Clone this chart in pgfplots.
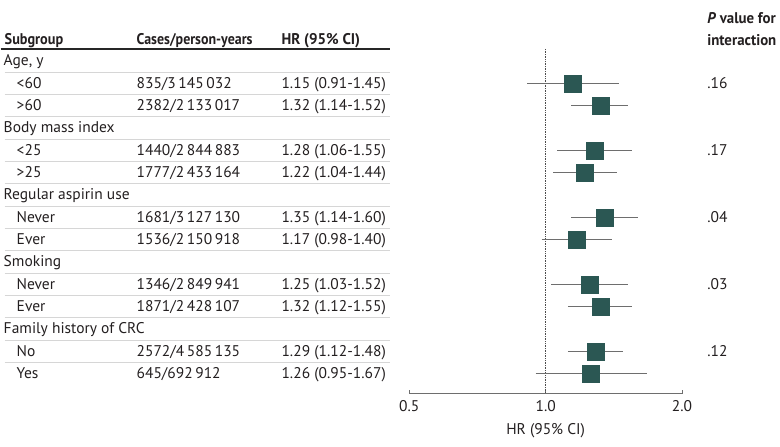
\documentclass[border=0pt]{standalone}
\usepackage{pgfplots}
\pgfplotsset{compat=1.18}
\usepackage{pgfplotstable}
\usepackage{fontspec}
\setmainfont{PT Sans}
\definecolor{sq}{HTML}{2B5753}
\definecolor{ci}{HTML}{6E6E6E}
\definecolor{sep}{HTML}{D6D6D6}
\definecolor{txt}{HTML}{231F20}
\pgfplotstableread{
y hr lo hi
83.35 1.15 0.91 1.45
105.7 1.32 1.14 1.52
150.4 1.28 1.06 1.55
172.75 1.22 1.04 1.44
217.45 1.35 1.14 1.60
239.8 1.17 0.98 1.40
284.5 1.25 1.03 1.52
306.85 1.32 1.12 1.55
351.55 1.29 1.12 1.48
373.9 1.26 0.95 1.67
}\hrdata
\newcommand\cat[2]{\node[anchor=base west,inner sep=0pt] at (3pt,{-(#1+5)*1pt}) {#2};}
\newcommand\sub[4]{%
  \node[anchor=base west,inner sep=0pt] at (16pt,{-(#1+5)*1pt}) {#2};
  \node[anchor=base west,inner sep=0pt] at (136pt,{-(#1+5)*1pt}) {#3};
  \node[anchor=base west,inner sep=0pt] at (281pt,{-(#1+5)*1pt}) {#4};}
\newcommand\pv[2]{\node[anchor=base west,inner sep=0pt] at (707pt,{-(#1+5)*1pt}) {#2};}
\begin{document}
\fontsize{15.5pt}{17pt}\selectfont
\color{txt}
\begin{tikzpicture}
\path (0,0) rectangle (780pt,-447pt);
% header
\node[anchor=base west,inner sep=0pt,font=\bfseries] at (4pt,-45pt) {\scalebox{0.92}[1]{Subgroup}};
\node[anchor=base west,inner sep=0pt,font=\bfseries] at (136pt,-45pt) {\scalebox{0.9}[1]{Cases/person-years}};
\node[anchor=base west,inner sep=0pt,font=\bfseries] at (281pt,-45pt) {\scalebox{0.97}[1]{HR (95\% CI)}};
\node[anchor=base west,inner sep=0pt,font=\bfseries] at (707pt,-24pt) {\scalebox{0.96}[1]{\textit{P} value for}};
\node[anchor=base west,inner sep=0pt,font=\bfseries] at (707pt,-46pt) {\scalebox{0.96}[1]{interaction}};
\draw[line width=1.1pt, black!85] (0pt,-49pt) -- (390pt,-49pt);
\foreach \k in {0,...,13} {
  \pgfmathsetmacro\yy{-(72.2+22.35*\k)}
  \draw[sep, line width=0.8pt] (4pt,\yy pt) -- (390pt,\yy pt);
}
\cat{61}{Age, y}
\sub{83.35}{<60}{835/3\,145\,032}{1.15 (0.91-1.45)}
\sub{105.7}{>60}{2382/2\,133\,017}{1.32 (1.14-1.52)}
\cat{128.05}{Body mass index}
\sub{150.4}{<25}{1440/2\,844\,883}{1.28 (1.06-1.55)}
\sub{172.75}{>25}{1777/2\,433\,164}{1.22 (1.04-1.44)}
\cat{195.1}{Regular aspirin use}
\sub{217.45}{Never}{1681/3\,127\,130}{1.35 (1.14-1.60)}
\sub{239.8}{Ever}{1536/2\,150\,918}{1.17 (0.98-1.40)}
\cat{262.15}{Smoking}
\sub{284.5}{Never}{1346/2\,849\,941}{1.25 (1.03-1.52)}
\sub{306.85}{Ever}{1871/2\,428\,107}{1.32 (1.12-1.55)}
\cat{329.2}{Family history of CRC}
\sub{351.55}{No}{2572/4\,585\,135}{1.29 (1.12-1.48)}
\sub{373.9}{Yes}{645/692\,912}{1.26 (0.95-1.67)}
\pv{83.35}{.16}
\pv{150.4}{.17}
\pv{217.45}{.04}
\pv{284.5}{.03}
\pv{351.55}{.12}
\begin{axis}[
  at={(409pt,-394pt)}, anchor=south west,
  scale only axis, width=273pt, height=345pt,
  xmode=log, log basis x=2, xmin=0.5, xmax=2,
  ymin=49, ymax=394, y dir=reverse,
  axis y line=none, axis x line*=bottom,
  x axis line style={-, draw=ci, line width=0.8pt},
  xtick={0.5,1,2}, xticklabels={0.5,1.0,2.0},
  tick align=inside, major tick length=4pt,
  tick style={ci, line width=0.8pt},
  xticklabel style={text=txt, yshift=-1pt},
  xlabel={HR (95\% CI)},
  xlabel style={text=txt, yshift=-2pt},
  clip=false,
]
\addplot[densely dotted, black!70, line width=0.7pt] coordinates {(1,49) (1,394)};
\addplot[ci, line width=0.9pt] coordinates {(0.91,83.35) (1.45,83.35)};
\addplot[ci, line width=0.9pt] coordinates {(1.14,105.7) (1.52,105.7)};
\addplot[ci, line width=0.9pt] coordinates {(1.06,150.4) (1.55,150.4)};
\addplot[ci, line width=0.9pt] coordinates {(1.04,172.75) (1.44,172.75)};
\addplot[ci, line width=0.9pt] coordinates {(1.14,217.45) (1.60,217.45)};
\addplot[ci, line width=0.9pt] coordinates {(0.98,239.8) (1.40,239.8)};
\addplot[ci, line width=0.9pt] coordinates {(1.03,284.5) (1.52,284.5)};
\addplot[ci, line width=0.9pt] coordinates {(1.12,306.85) (1.55,306.85)};
\addplot[ci, line width=0.9pt] coordinates {(1.12,351.55) (1.48,351.55)};
\addplot[ci, line width=0.9pt] coordinates {(0.95,373.9) (1.67,373.9)};
\addplot[only marks, mark=square*, mark size=8.5pt, mark options={fill=sq, draw=sq, line width=0.4pt}] table[x=hr, y=y] {\hrdata};
\end{axis}
\end{tikzpicture}
\end{document}
